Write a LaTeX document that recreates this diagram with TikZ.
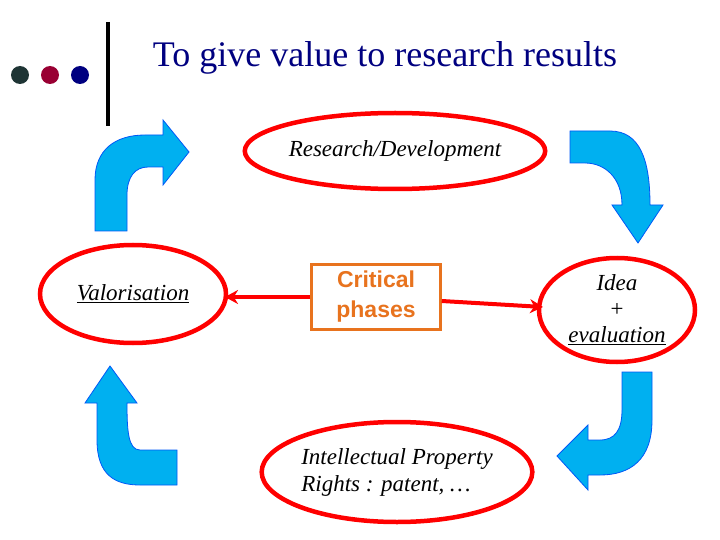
\documentclass[tikz,border=0pt]{standalone}
\usepackage{fontspec}
\setmainfont{Liberation Serif}
\setsansfont{Liberation Sans}
\usetikzlibrary{shapes.geometric,arrows.meta}
\definecolor{navy}{HTML}{000080}
\definecolor{dgreen}{HTML}{1F3535}
\definecolor{dred}{HTML}{990033}
\definecolor{sky}{HTML}{00B0F0}
\definecolor{orng}{HTML}{E8731E}
\begin{document}
\begin{tikzpicture}[x=1pt,y=-1pt,
  ell/.style={ellipse,draw=red,line width=4.5pt,inner sep=0pt,font=\itshape\fontsize{23}{27}\selectfont,align=center},
  bent/.style={fill=sky,draw=sky!50!blue,line width=0.8pt},
  rar/.style={red,line width=4pt,-{Stealth[length=13pt,width=14pt]}}]
\useasboundingbox (0,0) rectangle (720,540);
\fill[white] (0,0) rectangle (720,540);
\fill[dgreen] (20,75) circle (9);
\fill[dred] (50,75) circle (9);
\fill[navy] (80,75) circle (9);
\draw[line width=4pt] (108,22) -- (108,126);
\node[text=navy,font=\fontsize{36}{40}\selectfont] (title) at (385,58) {To give value to research results};
\node[ell,minimum width=294pt,minimum height=76pt] (rd) at (395,151) {Research/Development};
\node[ell,minimum width=186pt,minimum height=98pt] (val) at (133,294) {\underline{Valorisation}};
\node[ell,minimum width=156pt,minimum height=104pt,font=\itshape\fontsize{23}{26}\selectfont] (idea) at (617,310) {Idea\\+\\\underline{evaluation}};
\node[ell,minimum width=266pt,minimum height=100pt,align=left] (ipr) at (397,472) {Intellectual Property\\Rights : patent, \dots};
\node[draw=orng,line width=2.5pt,text=orng,font=\sffamily\bfseries\fontsize{23}{30}\selectfont,align=center,minimum width=129pt,minimum height=65pt] (cp) at (376,297) {Critical\\phases};
\draw[rar] (cp.west) -- (225,297) coordinate (a1);
\draw[rar] ([yshift=-4pt]cp.east) -- (543,307) coordinate (a2);
% bent arrows
\draw[bent] (95,231) -- (95,180) .. controls (95,150) and (115,135) .. (145,135) -- (163,135) -- (163,120) -- (189,152) -- (163,185) -- (163,167) -- (148,167) .. controls (135,167) and (127,177) .. (127,195) -- (127,231) -- cycle;
\draw[bent] (570,131) -- (610,131) .. controls (640,131) and (650,160) .. (650,205) -- (663,205) -- (638,243) -- (612,205) -- (622,205) .. controls (622,178) and (605,163) .. (585,163) -- (570,163) -- cycle;
\draw[bent] (652,372) -- (652,420) .. controls (652,460) and (630,475) .. (600,475) -- (588,475) -- (588,490) -- (557,456) -- (588,425) -- (588,440) -- (600,440) .. controls (615,440) and (622,430) .. (622,410) -- (622,372) -- cycle;
\draw[bent] (177,450) -- (140,450) .. controls (128,450) and (127,430) .. (127,403) -- (137,403) -- (110,366) -- (85,403) -- (97,403) -- (97,440) .. controls (97,475) and (115,485) .. (140,485) -- (177,485) -- cycle;
\end{tikzpicture}
\end{document}
